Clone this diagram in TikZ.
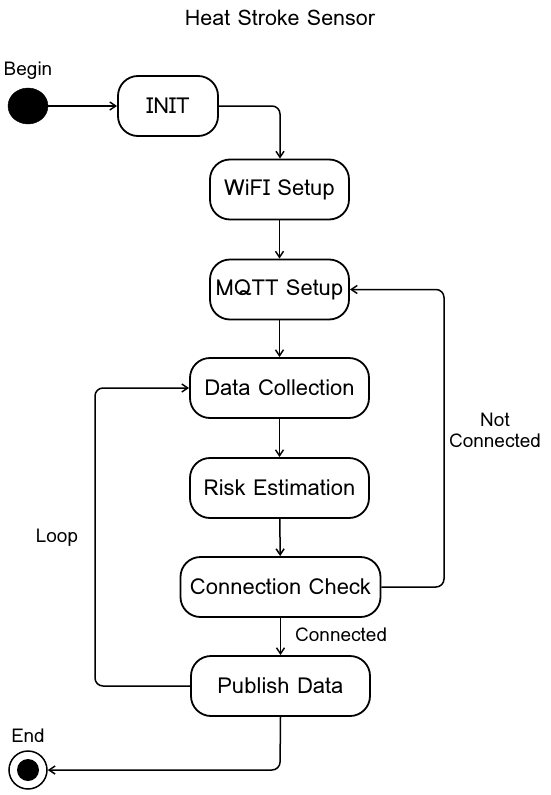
\documentclass[tikz,border=0pt]{standalone}
\usepackage{fontspec}
\setmainfont{Loma}
\usetikzlibrary{arrows.meta,shapes.geometric}
\begin{document}
\begin{tikzpicture}[x=1pt,y=-1pt,
  state/.style={draw,line width=1.8pt,rounded corners=20pt,minimum height=60pt,inner sep=0pt,font=\fontsize{22}{24}\selectfont},
  conn/.style={line width=1.5pt,-{Straight Barb[length=6pt,width=8pt]},rounded corners=8pt},
  lbl/.style={font=\fontsize{19}{21}\selectfont,inner sep=0pt,align=center}]
\useasboundingbox[fill=white] (0,0) rectangle (550,795);
\node[font=\fontsize{21.5}{23}\selectfont] (title) at (280,18) {Heat Stroke Sensor};
\node[lbl] (beginl) at (28,71) {Begin};
\node[fill=black,draw,ellipse,minimum width=40pt,minimum height=36pt,inner sep=0pt] (start) at (28,106) {};
\node[state,minimum width=100pt] (init) at (168,106) {INIT};
\node[state,minimum width=139pt] (wifi) at (279.5,189.5) {WiFI Setup};
\node[state,minimum width=139pt] (mqtt) at (279.5,289.5) {MQTT Setup};
\node[state,minimum width=179pt] (data) at (279.5,388) {Data Collection};
\node[state,minimum width=179pt] (risk) at (279.5,488) {Risk Estimation};
\node[state,minimum width=200pt] (check) at (280.5,587) {Connection Check};
\node[state,minimum width=179pt] (pub) at (280.5,686) {Publish Data};
\node[lbl] (endl) at (28,736) {End};
\node[draw,circle,line width=1.5pt,minimum size=38pt,inner sep=0pt] (stop) at (28,770) {};
\node[fill=black,circle,minimum size=22pt,inner sep=0pt] (stopin) at (28,770) {};
\node[lbl] (ncl) at (495,430) {Not\\Connected};
\node[lbl] (loopl) at (57,538) {Loop};
\node[lbl,anchor=west] (cl) at (295,635) {Connected};
\coordinate (c1) at (280,106);
\coordinate (c2) at (444,587);
\coordinate (c3) at (444,289.5);
\coordinate (c4) at (95,686);
\coordinate (c5) at (95,388);
\coordinate (c6) at (280,770);
\draw[conn] (start) -- (init);
\draw[conn] (init.east) -- (c1) -- (c1 |- wifi.north);
\draw[conn] (wifi) -- (mqtt);
\draw[conn] (mqtt) -- (data);
\draw[conn] (data) -- (risk);
\draw[conn] (risk) -- (check);
\draw[conn] (check) -- (pub);
\draw[conn] (check.east) -- (c2) -- (c3) -- (mqtt.east);
\draw[conn] (pub.west) -- (c4) -- (c5) -- (data.west);
\draw[conn] (pub.south) -- (c6) -- (stop.east);
\end{tikzpicture}
\end{document}
